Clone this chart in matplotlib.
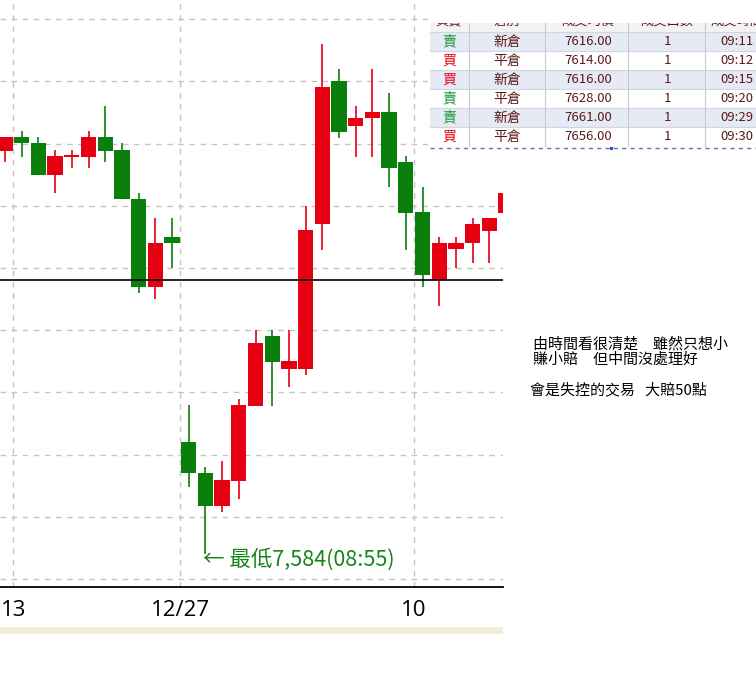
import numpy as np
import matplotlib.pyplot as plt
from matplotlib.patches import Rectangle

plt.rcParams['font.family'] = ['Noto Sans CJK TC', 'DejaVu Sans']

# candle data (one bar per slot, left to right)
opens  = [7648.8, 7651.1, 7650.1, 7645.0, 7647.9, 7647.8, 7651.1, 7649.0, 7641.1, 7626.9, 7635.0,
          7602.0, 7597.0, 7591.7, 7595.8, 7607.8, 7619.1, 7613.8, 7613.8, 7637.1, 7660.1,
          7652.8, 7654.1, 7655.1, 7647.0, 7639.0, 7628.1, 7633.1, 7634.0, 7635.9, 7638.8]
highs  = [7651.1, 7652.0, 7651.1, 7649.0, 7649.0, 7652.0, 7656.0, 7650.1, 7642.1, 7638.0, 7638.0,
          7608.0, 7598.0, 7599.0, 7608.9, 7620.0, 7620.0, 7620.0, 7640.0, 7666.0, 7662.0,
          7656.0, 7662.0, 7658.1, 7648.0, 7643.0, 7635.0, 7635.0, 7638.0, 7638.0, 7642.1]
lows   = [7647.0, 7647.8, 7645.0, 7642.1, 7646.1, 7646.1, 7647.0, 7641.1, 7626.0, 7625.0, 7630.0,
          7594.8, 7584.0, 7590.8, 7592.9, 7607.8, 7607.8, 7610.9, 7612.8, 7632.9, 7650.9,
          7647.8, 7647.8, 7643.0, 7632.9, 7626.9, 7623.9, 7630.0, 7630.8, 7630.8, 7638.8]
closes = [7651.1, 7650.1, 7645.0, 7648.0, 7648.2, 7651.1, 7648.8, 7641.1, 7626.9, 7634.0, 7634.0,
          7597.0, 7591.7, 7595.9, 7608.0, 7617.9, 7614.9, 7615.0, 7636.1, 7659.1, 7651.9,
          7654.1, 7655.1, 7646.1, 7638.8, 7628.9, 7634.0, 7634.0, 7637.1, 7638.0, 7642.1]

tick_pos = [0.5, 10.5, 24.5]
tick_labels = ["13", "12/27", "10"]
ref_price = 7628
low_idx = 12
low_text = "← 最低7,584(08:55)"

# trade table
tbl_header = ["買賣", "倉別", "成交均價", "成交口數", "成交時間"]
tbl_side = ["賣", "買", "買", "賣", "賣", "買"]
tbl_kind = ["新倉", "平倉", "新倉", "平倉", "新倉", "平倉"]
tbl_price = [7616.00, 7614.00, 7616.00, 7628.00, 7661.00, 7656.00]
tbl_qty = [1, 1, 1, 1, 1, 1]
tbl_time = ["09:11", "09:12", "09:15", "09:20", "09:29", "09:30"]

notes = ["由時間看很清楚\u3000雖然只想小", "賺小賠\u3000但中間沒處理好", "會是失控的交易   大賠50點"]

RED = '#e60012'
GREEN = '#0b7f0b'

fig = plt.figure(figsize=(7.56, 6.89), dpi=100)
ax = fig.add_axes([0, 102/689, 503/756, 587/689])

x = np.arange(len(opens))
o = np.array(opens); c = np.array(closes)
cols = [RED if cc >= oo else GREEN for oo, cc in zip(o, c)]
ax.vlines(x, lows, highs, colors=cols, lw=1.2, zorder=2)
body_h = np.maximum(np.abs(c - o), 0.35)
ax.bar(x, body_h, bottom=np.minimum(o, c), width=0.92, color=cols, zorder=3)

ax.axhline(ref_price, color='black', lw=1.2, zorder=4)

ax.set_xlim(-0.3, 29.82)
ax.set_ylim(7578.7, 7673.1)
ax.set_yticks(np.arange(7580, 7671, 10))
ax.set_xticks(tick_pos)
ax.set_xticklabels(tick_labels, fontsize=16, family='Open Sans')
ax.tick_params(left=False, labelleft=False, length=0, pad=9)
ax.grid(True, color='#c4c4c4', ls=(0, (4, 4)), lw=1)
ax.set_axisbelow(True)
for s in ['top', 'left', 'right']:
    ax.spines[s].set_visible(False)
ax.spines['bottom'].set_color('black')
ax.spines['bottom'].set_linewidth(1.3)

ax.annotate(low_text, xy=(low_idx, lows[low_idx]), xytext=(-2, -4), textcoords='offset points',
            ha='left', va='center', fontsize=15.5, color='#178517')

# overlay in pixel coordinates for table and notes
ov = fig.add_axes([0, 0, 1, 1])
ov.set_xlim(0, 756)
ov.set_ylim(689, 0)
ov.axis('off')

ov.add_patch(Rectangle((0, 627), 503, 7, color='#f1ecdc', lw=0))

ov.add_patch(Rectangle((428, 0), 328, 148, color='white', lw=0))
col_edges = [430, 469, 545, 628, 705, 790]
col_cx = [449, 507, 588, 667, 737]
row_h = 19
top = 32
ov.add_patch(Rectangle((430, 23), 326, 9, color='#f3f3f3', lw=0))
for j, h in enumerate(tbl_header):
    ov.text(col_cx[j], 21, h, ha='center', va='center', fontsize=9.5, color='#5a1a1a', zorder=1)
# the header is scrolled partly out of view
ov.add_patch(Rectangle((428, 0), 328, 23, color='white', lw=0, zorder=5))
for i in range(len(tbl_side)):
    y0 = top + i * row_h
    bg = '#e6eaf4' if i % 2 == 0 else 'white'
    ov.add_patch(Rectangle((430, y0), 326, row_h, color=bg, lw=0))
    ov.plot([430, 756], [y0, y0], color='#d2d6de', lw=0.8)
    yc = y0 + row_h / 2
    ov.text(col_cx[0], yc, tbl_side[i], ha='center', va='center', fontsize=10,
            color=RED if tbl_side[i] == "買" else '#1a9a3a')
    ov.text(col_cx[1], yc, tbl_kind[i], ha='center', va='center', fontsize=10, color='#5a1a1a')
    ov.text(col_cx[2], yc, f"{tbl_price[i]:.2f}", ha='center', va='center', fontsize=9.5, color='#5a1a1a')
    ov.text(col_cx[3], yc, str(tbl_qty[i]), ha='center', va='center', fontsize=9.5, color='#5a1a1a')
    ov.text(col_cx[4], yc, tbl_time[i], ha='center', va='center', fontsize=9.5, color='#5a1a1a')
for xe in col_edges[1:5]:
    ov.plot([xe, xe], [23, top + 6 * row_h], color='#c8c8c8', lw=0.8)
ov.plot([430, 756], [148, 148], color='#5a72b0', lw=1, ls=(0, (3, 3)))
ov.add_patch(Rectangle((610, 146.5), 3, 3, color='#3050c0', lw=0))

ov.text(533, 344, notes[0], ha='left', va='center', fontsize=10.8, color='black')
ov.text(533, 360, notes[1], ha='left', va='center', fontsize=10.8, color='black')
ov.text(530, 390, notes[2], ha='left', va='center', fontsize=10.8, color='black')

fig.savefig('out.png', dpi=100)
